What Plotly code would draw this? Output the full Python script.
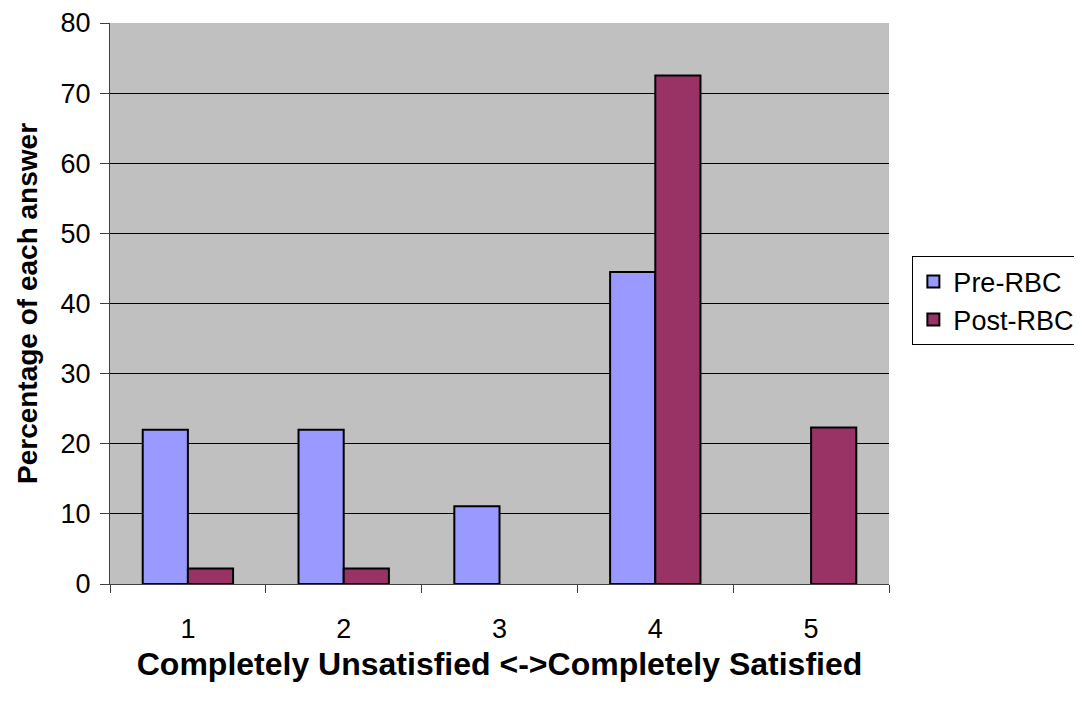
import plotly.graph_objects as go

categories = ["1", "2", "3", "4", "5"]
pre_rbc = [22.0, 22.0, 11.1, 44.5, None]
post_rbc = [2.2, 2.2, None, 72.5, 22.3]

fig = go.Figure()
fig.add_trace(go.Bar(x=categories, y=pre_rbc, name="Pre-RBC",
                     marker=dict(color="#9999FF", line=dict(color="black", width=2))))
fig.add_trace(go.Bar(x=categories, y=post_rbc, name="Post-RBC",
                     marker=dict(color="#993366", line=dict(color="black", width=2))))

font_family = "Liberation Sans, Arial, sans-serif"
fig.update_layout(
    width=1066, height=685,
    margin=dict(l=102, r=185, t=15, b=109, autoexpand=False),
    paper_bgcolor="white", plot_bgcolor="#C0C0C0",
    barmode="group", bargap=0.42, bargroupgap=0,
    font=dict(family=font_family, size=27, color="black"),
    legend=dict(x=1.03, y=0.584, xanchor="left", yanchor="top",
                bordercolor="black", borderwidth=1, bgcolor="white",
                font=dict(size=27)),
    xaxis=dict(title=dict(text="<b>Completely Unsatisfied <->Completely Satisfied</b>",
                          font=dict(size=32), standoff=9),
               showline=True, linecolor="#404040", linewidth=1,
               ticks="outside", ticklen=8, tickcolor="#404040",
               tickson="boundaries", showgrid=False, tickfont=dict(size=27),
               ticklabelstandoff=21, ticklabeloverflow="allow"),
    yaxis=dict(title=dict(text="<b>Percentage of each answer</b>", font=dict(size=28), standoff=14),
               range=[0, 80], dtick=10, showgrid=True, gridcolor="black", gridwidth=1,
               showline=True, linecolor="#404040", linewidth=1,
               ticks="outside", ticklen=9, tickcolor="#404040",
               zeroline=False, tickfont=dict(size=27), ticklabelstandoff=4,
               ticklabeloverflow="allow"),
)
fig.write_html("out.html")
